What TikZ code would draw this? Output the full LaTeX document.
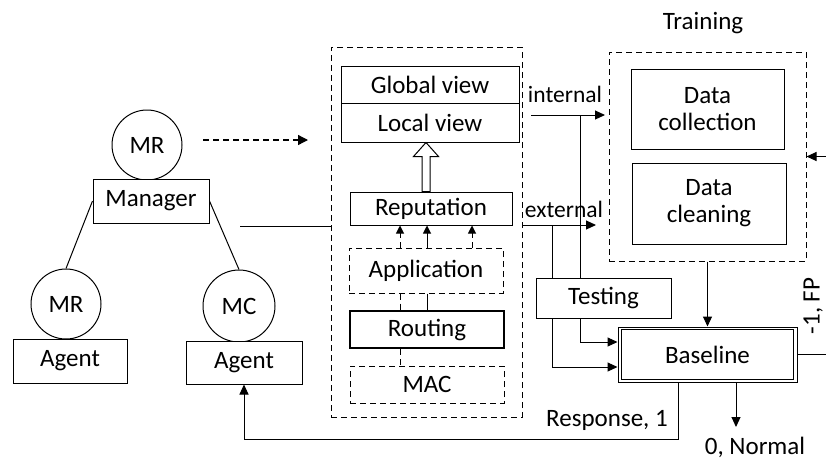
\documentclass[tikz,border=0pt]{standalone}
\usepackage{fontspec}
\setmainfont{Carlito}
\usetikzlibrary{arrows.meta,calc}
\tikzset{
  box/.style={draw, line width=1pt, fill=white, inner sep=0pt, align=center},
  dbox/.style={box, dash pattern=on 6pt off 4pt},
  circ/.style={draw, line width=1pt, circle, inner sep=0pt, minimum size=70pt},
  txt/.style={inner sep=0pt, font=\fontsize{25}{27}\selectfont},
  smalltxt/.style={inner sep=0pt, font=\fontsize{23.5}{26}\selectfont},
  conn/.style={line width=1pt},
  arr/.style={conn, -{Triangle[length=10pt,width=9pt]}},
  dashline/.style={line width=1pt, dash pattern=on 6pt off 4pt},
}
\begin{document}
\begin{tikzpicture}[x=1pt,y=-1pt, every node/.append style={font=\fontsize{25}{27}\selectfont}]
\useasboundingbox (0,0) rectangle (826,459);
% left hierarchy
\node[circ] (mr1) at (147,145) {MR};
\node[box, minimum width=116pt, minimum height=44pt] (manager) at (151,201) {Manager};
\node[circ] (mr2) at (66,304) {MR};
\node[box, minimum width=114pt, minimum height=44pt] (agent1) at (70,361) {Agent};
\node[circ, minimum size=72pt] (mc) at (239,306) {MC};
\node[box, minimum width=116pt, minimum height=43pt] (agent2) at (244,362.5) {Agent};
\draw[conn] (manager.west) -- (mr2.north);
\draw[conn] (manager.east) -- (mc.north);
\coordinate (da1) at (203,140);
\coordinate (da2) at (308,140);
\draw[dashline, line width=1.3pt, -{Triangle[length=10pt,width=10pt]}] (da1) -- (da2);
% middle dashed box
\node[dbox, minimum width=191pt, minimum height=370pt, fill=none] (big) at (426.5,232) {};
\node[box, minimum width=178pt, minimum height=37pt] (global) at (430,84.5) {Global view};
\node[box, minimum width=178pt, minimum height=39pt] (local) at (430,122.5) {Local view};
\node[box, minimum width=162pt, minimum height=33pt] (rep) at (431,208.5) {Reputation};
\node[dbox, minimum width=154pt, minimum height=45pt] (app) at (426,270.5) {Application};
\node[box, line width=2pt, minimum width=154pt, minimum height=37pt] (routing) at (427,329.5) {Routing};
\node[dbox, minimum width=154pt, minimum height=37pt] (mac) at (427,384.5) {MAC};
\coordinate (xa) at (400,0);
\coordinate (xb) at (427,0);
\coordinate (xc) at (472,0);
\coordinate (xh) at (426,0);
\draw[dashline, -{Triangle[length=8pt,width=8pt]}] (app.north -| xa) -- (rep.south -| xa);
\draw[conn, -{Triangle[length=8pt,width=8pt]}] (app.north -| xb) -- (rep.south -| xb);
\draw[dashline, -{Triangle[length=8pt,width=8pt]}] (app.north -| xc) -- (rep.south -| xc);
\draw[dashline] (app.south -| xa) -- (routing.north -| xa);
\draw[conn] (app.south -| xb) -- (routing.north -| xb);
\draw[dashline] (routing.south -| xa) -- (mac.north -| xa);
% hollow arrow
\draw[conn, fill=white] ($(rep.north -| xh)+(-4,0)$) -- ++(0,-35) -- ++(-8.5,0)
  -- (local.south -| xh) -- ($(rep.north -| xh)+(12.5,-35)$) -- ++(-8.5,0) -- ($(rep.north -| xh)+(4,0)$) -- cycle;
% line from manager
\coordinate (ml) at (240,226);
\draw[conn] (ml) -- (big.west |- ml);
% training
\node[txt] (trainlbl) at (703,23) {Training};
\node[dbox, minimum width=197pt, minimum height=209pt, fill=none] (train) at (707.5,156.5) {};
\node[box, minimum width=153pt, minimum height=80pt] (collect) at (707.5,109) {Data\\collection};
\node[box, minimum width=154pt, minimum height=81pt] (clean) at (709,203.5) {Data\\cleaning};
% testing and baseline
\coordinate (int1) at (531,115);
\coordinate (int2) at (605,115);
\coordinate (ext1) at (522,225);
\coordinate (ext2) at (596,225);
\node[smalltxt] (intlbl) at (565,94) {internal};
\node[smalltxt] (extlbl) at (564,209) {external};
\draw[arr] (int1) -- (int2);
\draw[arr] (ext1) -- (ext2);
\node[box, minimum width=179pt, minimum height=55pt] (base) at (707.5,354.5) {Baseline};
\draw[conn] ($(base.south west)+(4,-3)$) rectangle ($(base.north east)+(-4,3)$);
\coordinate (vi) at (580,115);
\coordinate (ve) at (552,225);
\coordinate (yi) at (0,342);
\coordinate (ye) at (0,367);
\draw[arr] (vi) -- (vi |- yi) -- (base.west |- yi);
\draw[arr] (ve) -- (ve |- ye) -- (base.west |- ye);
\node[box, minimum width=135pt, minimum height=40pt] (testing) at (603.5,298) {Testing};
\draw[arr] (train.south -| base.north) -- (base.north);
% outputs
\coordinate (fpc) at (845,0);
\draw[arr] (base.east) -- (base.east -| fpc) -- (train.east -| fpc) -- (train.east);
\node[txt, rotate=90, anchor=south] (fplbl) at (823,306) {-1, FP};
\coordinate (nx) at (736,0);
\coordinate (nend) at (736,427);
\draw[arr] (base.south -| nx) -- (nend);
\node[txt] (normlbl) at (755,447) {0, Normal};
\coordinate (rx) at (678,0);
\coordinate (rb) at (678,439);
\draw[arr] (base.south -| rx) -- (rb) -- (rb -| agent2.south) -- (agent2.south);
\node[txt] (resplbl) at (607,420) {Response, 1};
\end{tikzpicture}
\end{document}
